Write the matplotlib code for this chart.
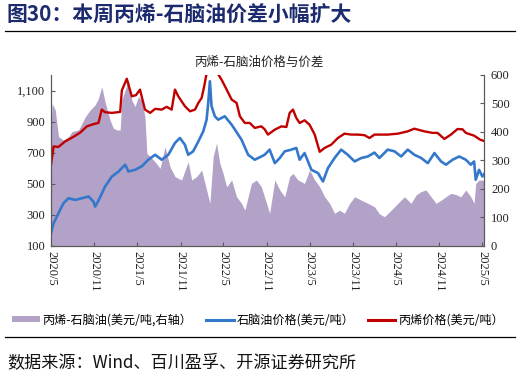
import matplotlib
matplotlib.use("Agg")
import matplotlib.pyplot as plt
from matplotlib.lines import Line2D
from matplotlib.patches import Patch
import pandas as pd

plt.rcParams['font.family'] = ['Noto Sans CJK SC', 'DejaVu Sans']

# ---------------- data ----------------
propylene_dates = [
    "2020-05-01", "2020-05-12", "2020-06-01", "2020-06-30", "2020-07-31", "2020-08-31",
    "2020-09-30", "2020-10-31", "2020-11-18", "2020-12-02", "2020-12-16", "2021-01-14",
    "2021-02-18", "2021-02-25", "2021-03-18", "2021-04-08", "2021-04-26", "2021-05-13",
    "2021-06-03", "2021-06-25", "2021-07-16", "2021-08-13", "2021-09-03", "2021-09-24",
    "2021-10-08", "2021-10-22", "2021-11-19", "2021-12-11", "2022-01-01", "2022-01-15",
    "2022-01-29", "2022-02-09", "2022-02-19", "2022-03-05", "2022-03-22", "2022-04-09",
    "2022-04-23", "2022-05-15", "2022-06-05", "2022-06-26", "2022-07-10", "2022-07-31",
    "2022-08-21", "2022-09-11", "2022-10-09", "2022-10-23", "2022-11-06", "2022-12-05",
    "2023-01-02", "2023-01-23", "2023-02-06", "2023-02-20", "2023-03-06", "2023-03-20",
    "2023-04-10", "2023-05-01", "2023-05-23", "2023-06-13", "2023-07-04", "2023-08-01",
    "2023-08-29", "2023-09-26", "2023-10-25", "2023-11-22", "2023-12-20", "2024-01-10",
    "2024-01-31", "2024-03-27", "2024-05-09", "2024-06-20", "2024-07-18", "2024-08-29",
    "2024-10-03", "2024-10-24", "2024-11-22", "2024-12-20", "2025-01-17", "2025-02-07",
    "2025-02-21", "2025-03-28", "2025-04-23", "2025-05-09",
]
propylene_price = [
    622, 740, 736, 772, 798, 827,
    869, 885, 891, 977, 960, 956,
    962, 1100, 1176, 1063, 1070, 1106,
    977, 956, 982, 977, 995, 977,
    1106, 1063, 999, 966, 977, 1020,
    1052, 1128, 1210, 1260, 1270, 1205,
    1171, 1106, 1042, 1020, 934, 891,
    891, 859, 869, 850, 816, 848,
    869, 865, 956, 977, 923, 891,
    908, 880, 816, 705, 730, 751,
    794, 822, 816, 816, 812, 794,
    816, 816, 822, 837, 854, 837,
    827, 827, 788, 816, 852, 850,
    827, 809, 783, 775,
]

naphtha_dates = [
    "2020-05-01", "2020-05-12", "2020-06-02", "2020-06-23", "2020-07-14", "2020-08-12",
    "2020-09-09", "2020-10-07", "2020-10-28", "2020-11-04", "2020-11-18", "2020-12-16",
    "2021-01-14", "2021-02-11", "2021-03-11", "2021-03-25", "2021-04-22", "2021-05-20",
    "2021-06-17", "2021-07-16", "2021-08-13", "2021-09-10", "2021-10-08", "2021-10-29",
    "2021-11-19", "2021-12-03", "2021-12-24", "2022-01-15", "2022-02-05", "2022-02-19",
    "2022-02-26", "2022-03-05", "2022-03-12", "2022-03-26", "2022-04-09", "2022-05-07",
    "2022-06-05", "2022-06-19", "2022-07-17", "2022-08-14", "2022-09-11", "2022-10-09",
    "2022-10-23", "2022-11-13", "2022-12-05", "2022-12-26", "2023-01-16", "2023-02-13",
    "2023-03-06", "2023-03-20", "2023-04-10", "2023-05-09", "2023-06-06", "2023-06-27",
    "2023-07-18", "2023-08-15", "2023-09-12", "2023-10-10", "2023-11-08", "2023-12-06",
    "2024-01-03", "2024-01-31", "2024-02-21", "2024-03-27", "2024-04-25", "2024-05-23",
    "2024-06-20", "2024-07-18", "2024-08-16", "2024-09-13", "2024-10-11", "2024-11-08",
    "2024-11-29", "2024-12-27", "2025-01-24", "2025-02-21", "2025-03-14", "2025-03-28",
    "2025-04-04", "2025-04-18", "2025-05-02", "2025-05-09",
]
naphtha_price = [
    180, 245, 310, 374, 406, 395,
    406, 417, 384, 352, 390, 481,
    546, 578, 622, 578, 589, 611,
    654, 686, 654, 686, 762, 794,
    751, 686, 708, 772, 837, 912,
    1020, 1160, 999, 934, 912, 934,
    880, 848, 783, 686, 654, 675,
    686, 719, 632, 665, 708, 719,
    730, 654, 697, 589, 568, 514,
    600, 665, 719, 686, 643, 665,
    675, 700, 665, 719, 708, 675,
    719, 686, 665, 632, 697, 643,
    622, 654, 675, 654, 622, 643,
    525, 589, 546, 560,
]

spread_dates = [
    "2020-05-01", "2020-05-06", "2020-05-19", "2020-06-02", "2020-06-23", "2020-07-14",
    "2020-07-29", "2020-08-26", "2020-09-09", "2020-09-23", "2020-10-14", "2020-11-04",
    "2020-11-18", "2020-12-02", "2020-12-16", "2021-01-06", "2021-01-20", "2021-02-04",
    "2021-02-18", "2021-02-25", "2021-03-11", "2021-03-25", "2021-04-08", "2021-04-22",
    "2021-05-06", "2021-05-20", "2021-06-03", "2021-06-11", "2021-06-25", "2021-07-16",
    "2021-08-06", "2021-08-27", "2021-09-17", "2021-10-08", "2021-11-05", "2021-12-03",
    "2021-12-18", "2022-01-08", "2022-01-29", "2022-02-19", "2022-03-05", "2022-03-19",
    "2022-04-02", "2022-04-16", "2022-04-30", "2022-05-15", "2022-06-05", "2022-06-26",
    "2022-07-17", "2022-07-31", "2022-08-14", "2022-08-28", "2022-09-18", "2022-10-09",
    "2022-10-31", "2022-11-13", "2022-12-05", "2022-12-26", "2023-01-16", "2023-02-06",
    "2023-02-20", "2023-03-13", "2023-04-10", "2023-05-01", "2023-05-23", "2023-06-13",
    "2023-07-04", "2023-07-25", "2023-08-15", "2023-09-05", "2023-09-26", "2023-10-18",
    "2023-11-08", "2023-12-06", "2024-01-03", "2024-01-31", "2024-02-21", "2024-03-13",
    "2024-04-11", "2024-05-09", "2024-06-06", "2024-07-04", "2024-07-25", "2024-08-15",
    "2024-09-05", "2024-09-27", "2024-10-18", "2024-11-08", "2024-11-29", "2024-12-20",
    "2025-01-10", "2025-01-31", "2025-02-21", "2025-03-14", "2025-03-28", "2025-04-04",
    "2025-04-18", "2025-05-09",
]
spread_value = [
    418, 500, 477, 383, 371, 383,
    401, 407, 430, 453, 477, 495,
    518, 559, 506, 442, 413, 407,
    407, 512, 547, 582, 512, 489,
    524, 512, 453, 325, 313, 295,
    272, 348, 278, 243, 231, 295,
    231, 243, 266, 196, 149, 313,
    360, 290, 254, 207, 231, 172,
    149, 125, 172, 219, 231, 207,
    149, 114, 231, 196, 172, 243,
    254, 231, 219, 266, 231, 207,
    172, 149, 114, 125, 114, 149,
    172, 160, 149, 137, 112, 102,
    125, 149, 172, 149, 178, 190,
    196, 172, 149, 160, 172, 184,
    180, 172, 196, 172, 149, 219,
    231, 230,
]

x_tick_dates = ["2020-05-01", "2020-11-01", "2021-05-01", "2021-11-01", "2022-05-01",
                "2022-11-01", "2023-05-01", "2023-11-01", "2024-05-01", "2024-11-01",
                "2025-05-01"]
x_tick_labels = ["2020/5", "2020/11", "2021/5", "2021/11", "2022/5", "2022/11",
                 "2023/5", "2023/11", "2024/5", "2024/11", "2025/5"]
left_ticks = [100, 300, 500, 700, 900, 1100]
left_tick_labels = ["100", "300", "500", "700", "900", "1,100"]
right_ticks = [0, 100, 200, 300, 400, 500, 600]

title_text = "图30：本周丙烯-石脑油价差小幅扩大"
chart_title = "丙烯-石脑油价格与价差"
legend_labels = ["丙烯-石脑油(美元/吨,右轴）", "石脑油价格(美元/吨）", "丙烯价格(美元/吨）"]
source_text = "数据来源：Wind、百川盈孚、开源证券研究所"

# ---------------- style ----------------
RED = "#C00000"
BLUE = "#3478CC"
FILL = "#B3A2C7"
NAVY = "#1C2A6E"
SERIF = "Liberation Serif"

W, H = 521, 374
fig = plt.figure(figsize=(W / 100, H / 100), dpi=100)

def fy(py):
    return 1 - py / H

ax_left, ax_right, ax_top, ax_bot = 51, 484, 75, 245.7
ax = fig.add_axes([ax_left / W, fy(ax_bot), (ax_right - ax_left) / W, (ax_bot - ax_top) / H])
ax2 = ax.twinx()

sd = pd.to_datetime(spread_dates)
ax2.fill_between(sd, 0, spread_value, color=FILL, linewidth=0)
ax2.set_ylim(0, 600)
ax2.set_yticks(right_ticks)

pd_prop = pd.to_datetime(propylene_dates)
pd_nap = pd.to_datetime(naphtha_dates)
ax.plot(pd_nap, naphtha_price, color=BLUE, lw=1.9, solid_joinstyle='round')
ax.plot(pd_prop, propylene_price, color=RED, lw=1.7, solid_joinstyle='round')
ax.set_ylim(100, 1200)
ax.set_yticks(left_ticks)
ax.set_yticklabels(left_tick_labels)
ax.set_zorder(ax2.get_zorder() + 1)
ax.patch.set_visible(False)

ax.set_xlim(pd.Timestamp("2020-05-01"), pd.Timestamp("2025-05-09"))
ax.set_xticks(pd.to_datetime(x_tick_dates))
ax.set_xticklabels(x_tick_labels, rotation=-90, va='top', ha='center')

for a in (ax, ax2):
    for s in a.spines.values():
        s.set_color("#595959")
        s.set_linewidth(0.8)
    a.spines['top'].set_visible(False)
    a.tick_params(direction='in', length=3, width=0.8, color="#595959", pad=3)
    for lbl in a.get_xticklabels() + a.get_yticklabels():
        lbl.set_fontfamily(SERIF)
        lbl.set_fontsize(9)
        lbl.set_color("#222222")
ax.tick_params(axis='x', pad=4)
ax.tick_params(axis='y', pad=4)
ax2.tick_params(axis='y', pad=5)

# title and decorations
fig.text(7 / W, fy(15), title_text, fontsize=15, fontweight='bold', color=NAVY,
         ha='left', va='center')
fig.add_artist(Line2D([5 / W, 515 / W], [fy(31), fy(31)], color='black', lw=0.9))
fig.text(259 / W, fy(62), chart_title, fontsize=9, ha='center', va='center', color='#222222')

handles = [Patch(facecolor=FILL, edgecolor='none'),
           Line2D([], [], color=BLUE, lw=2.2),
           Line2D([], [], color=RED, lw=2.2)]
fig.legend(handles, legend_labels, loc='center', bbox_to_anchor=(258 / W, fy(320)),
           ncol=3, frameon=False, fontsize=8.7, handlelength=2.3, handleheight=0.35,
           handletextpad=0.25, columnspacing=1.1)

fig.add_artist(Line2D([5 / W, 515 / W], [fy(337), fy(337)], color='black', lw=0.9))
fig.text(7 / W, fy(362), source_text, fontsize=12.3, ha='left', va='center', color='#111111')

fig.savefig("out.png", dpi=100)
